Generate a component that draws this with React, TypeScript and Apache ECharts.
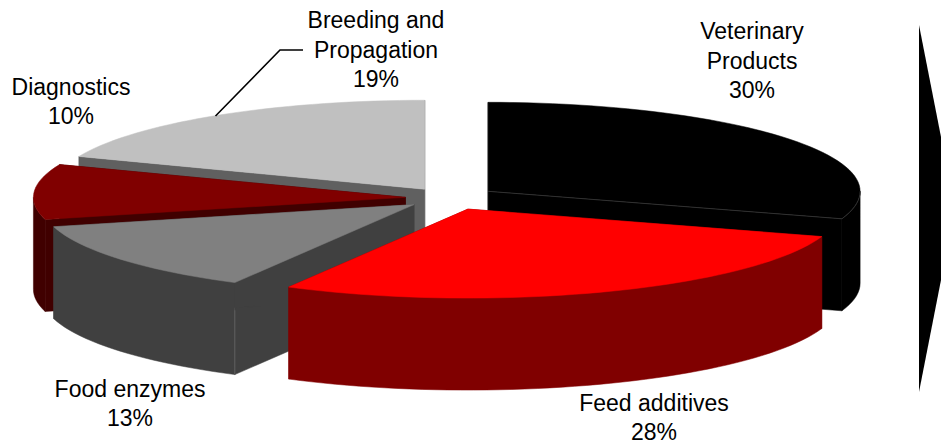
import React, { useEffect, useRef } from "react";
import * as echarts from "echarts";

// Market shares, clockwise from twelve o'clock.
const categories = ["Veterinary\nProducts", "Feed additives", "Food enzymes", "Diagnostics", "Breeding and\nPropagation"];
const shares = [30, 28, 13, 10, 19];

// Slice styling and layout.
const topColors = ["#000000", "#ff0000", "#808080", "#800000", "#c0c0c0"];
const wallColors = ["#000000", "#800000", "#404040", "#400000", "#606060"];
const edgeColors = ["#3a3a3a", "#800000", "#5c5c5c", "#400000", "#606060"];
const explodeFractions = [0.128, 0.134, 0.121, 0.119, 0.119];
const paintOrder = [0, 4, 3, 2, 1]; // back to front
// Centre x and the y of each label's last line.
const labelAnchors: [number, number][] = [[752, 90], [654, 432], [130, 418], [71, 116], [376, 79]];

const WIDTH = 941;
const HEIGHT = 445;
const CX = 449.6;
const CY = 198;
const RX = 372;
const RY = 89;
const DEPTH = 92;
const AXIS_SPAN = 1.15;
const LINE_GAP = 29.5;
const FONT = "'Liberation Sans', Arial, sans-serif";

const rad = (deg: number) => (deg * Math.PI) / 180;

function sliceAngles(index: number): [number, number] {
  const before = shares.slice(0, index).reduce((a, b) => a + b, 0);
  return [(before / 100) * 360, ((before + shares[index]) / 100) * 360];
}

function renderSlice(params: any, api: any) {
  const i = api.value(0) as number;
  const [start, end] = sliceAngles(i);
  const mid = rad((start + end) / 2);
  const ox = explodeFractions[i] * Math.sin(mid);
  const oy = explodeFractions[i] * Math.cos(mid);
  const rim = (deg: number) => api.coord([ox + Math.sin(rad(deg)), oy + Math.cos(rad(deg))]) as number[];
  const apex = api.coord([ox, oy]) as number[];
  const drop = (p: number[]) => [p[0], p[1] + DEPTH];

  const sweep = (a: number, b: number) => {
    const pts: number[][] = [];
    const steps = Math.max(2, Math.ceil((b - a) / 2));
    for (let s = 0; s <= steps; s++) pts.push(rim(a + ((b - a) * s) / steps));
    return pts;
  };

  const children: any[] = [];
  const face = (points: number[][], fill: string) =>
    children.push({
      type: "polygon",
      shape: { points },
      style: { fill, stroke: fill, lineWidth: 0.5 },
    });

  // Cut faces first, then the front of the rim, then the lid.
  const startRim = rim(start);
  const endRim = rim(end);
  face([apex, startRim, drop(startRim), drop(apex)], wallColors[i]);
  face([apex, endRim, drop(endRim), drop(apex)], wallColors[i]);

  const frontA = Math.max(start, 90);
  const frontB = Math.min(end, 270);
  if (frontB > frontA) {
    const arc = sweep(frontA, frontB);
    face([...arc, ...arc.map(drop).reverse()], wallColors[i]);
  }
  face([apex, ...sweep(start, end)], topColors[i]);

  // Hairlines along the exposed corners.
  if (i === 0) {
    children.push({
      type: "polyline",
      shape: { points: [apex, endRim] },
      style: { stroke: edgeColors[i], lineWidth: 0.8, fill: "none" },
    });
    children.push({
      type: "polyline",
      shape: { points: sweep(90, end) },
      style: { stroke: edgeColors[i], lineWidth: 0.8, fill: "none" },
    });
  }
  if (i === 2) {
    children.push({
      type: "line",
      shape: { x1: startRim[0], y1: startRim[1] + DEPTH * 0.3, x2: startRim[0], y2: startRim[1] + DEPTH },
      style: { stroke: edgeColors[i], lineWidth: 1 },
    });
  }
  return { type: "group", children };
}

// One text element per line, so that each line box stays inside the page.
function labelLines() {
  return categories.flatMap((name, i) => {
    const lines = [...name.split("\n"), `${shares[i]}%`];
    return lines.map((line, n) => ({
      type: "text",
      x: labelAnchors[i][0],
      y: labelAnchors[i][1] - (lines.length - 1 - n) * LINE_GAP,
      z: 10,
      style: {
        text: line,
        fill: "#000000",
        font: `23px ${FONT}`,
        lineHeight: 22,
        textAlign: "center",
        textVerticalAlign: "middle",
      },
    }));
  });
}

export default function App() {
  const ref = useRef<HTMLDivElement>(null);

  useEffect(() => {
    document.body.style.margin = "0";
    const chart = echarts.init(ref.current!, undefined, { renderer: "svg" });
    chart.setOption({
      animation: false,
      backgroundColor: "#ffffff",
      grid: {
        left: CX - RX * AXIS_SPAN,
        top: CY - RY * AXIS_SPAN,
        width: 2 * RX * AXIS_SPAN,
        height: 2 * RY * AXIS_SPAN,
      },
      xAxis: { type: "value", min: -AXIS_SPAN, max: AXIS_SPAN, show: false },
      yAxis: { type: "value", min: -AXIS_SPAN, max: AXIS_SPAN, show: false },
      series: [
        {
          type: "custom",
          coordinateSystem: "cartesian2d",
          clip: false,
          silent: true,
          renderItem: renderSlice,
          data: paintOrder.map((i) => [i, shares[i]]),
        },
      ],
      graphic: [
        ...labelLines(),
        {
          type: "polyline",
          z: 10,
          shape: { points: [[303, 50], [280, 50], [215.5, 116]] },
          style: { stroke: "#000000", lineWidth: 1.6, fill: "none" },
        },
        {
          // Chevron cut off by the right edge of the page.
          type: "polygon",
          z: 10,
          shape: { points: [[919, 25], [941, 137], [941, 280], [919, 392]] },
          style: { fill: "#000000" },
        },
      ],
    });
    return () => chart.dispose();
  }, []);

  return <div ref={ref} style={{ width: WIDTH, height: HEIGHT }} />;
}
